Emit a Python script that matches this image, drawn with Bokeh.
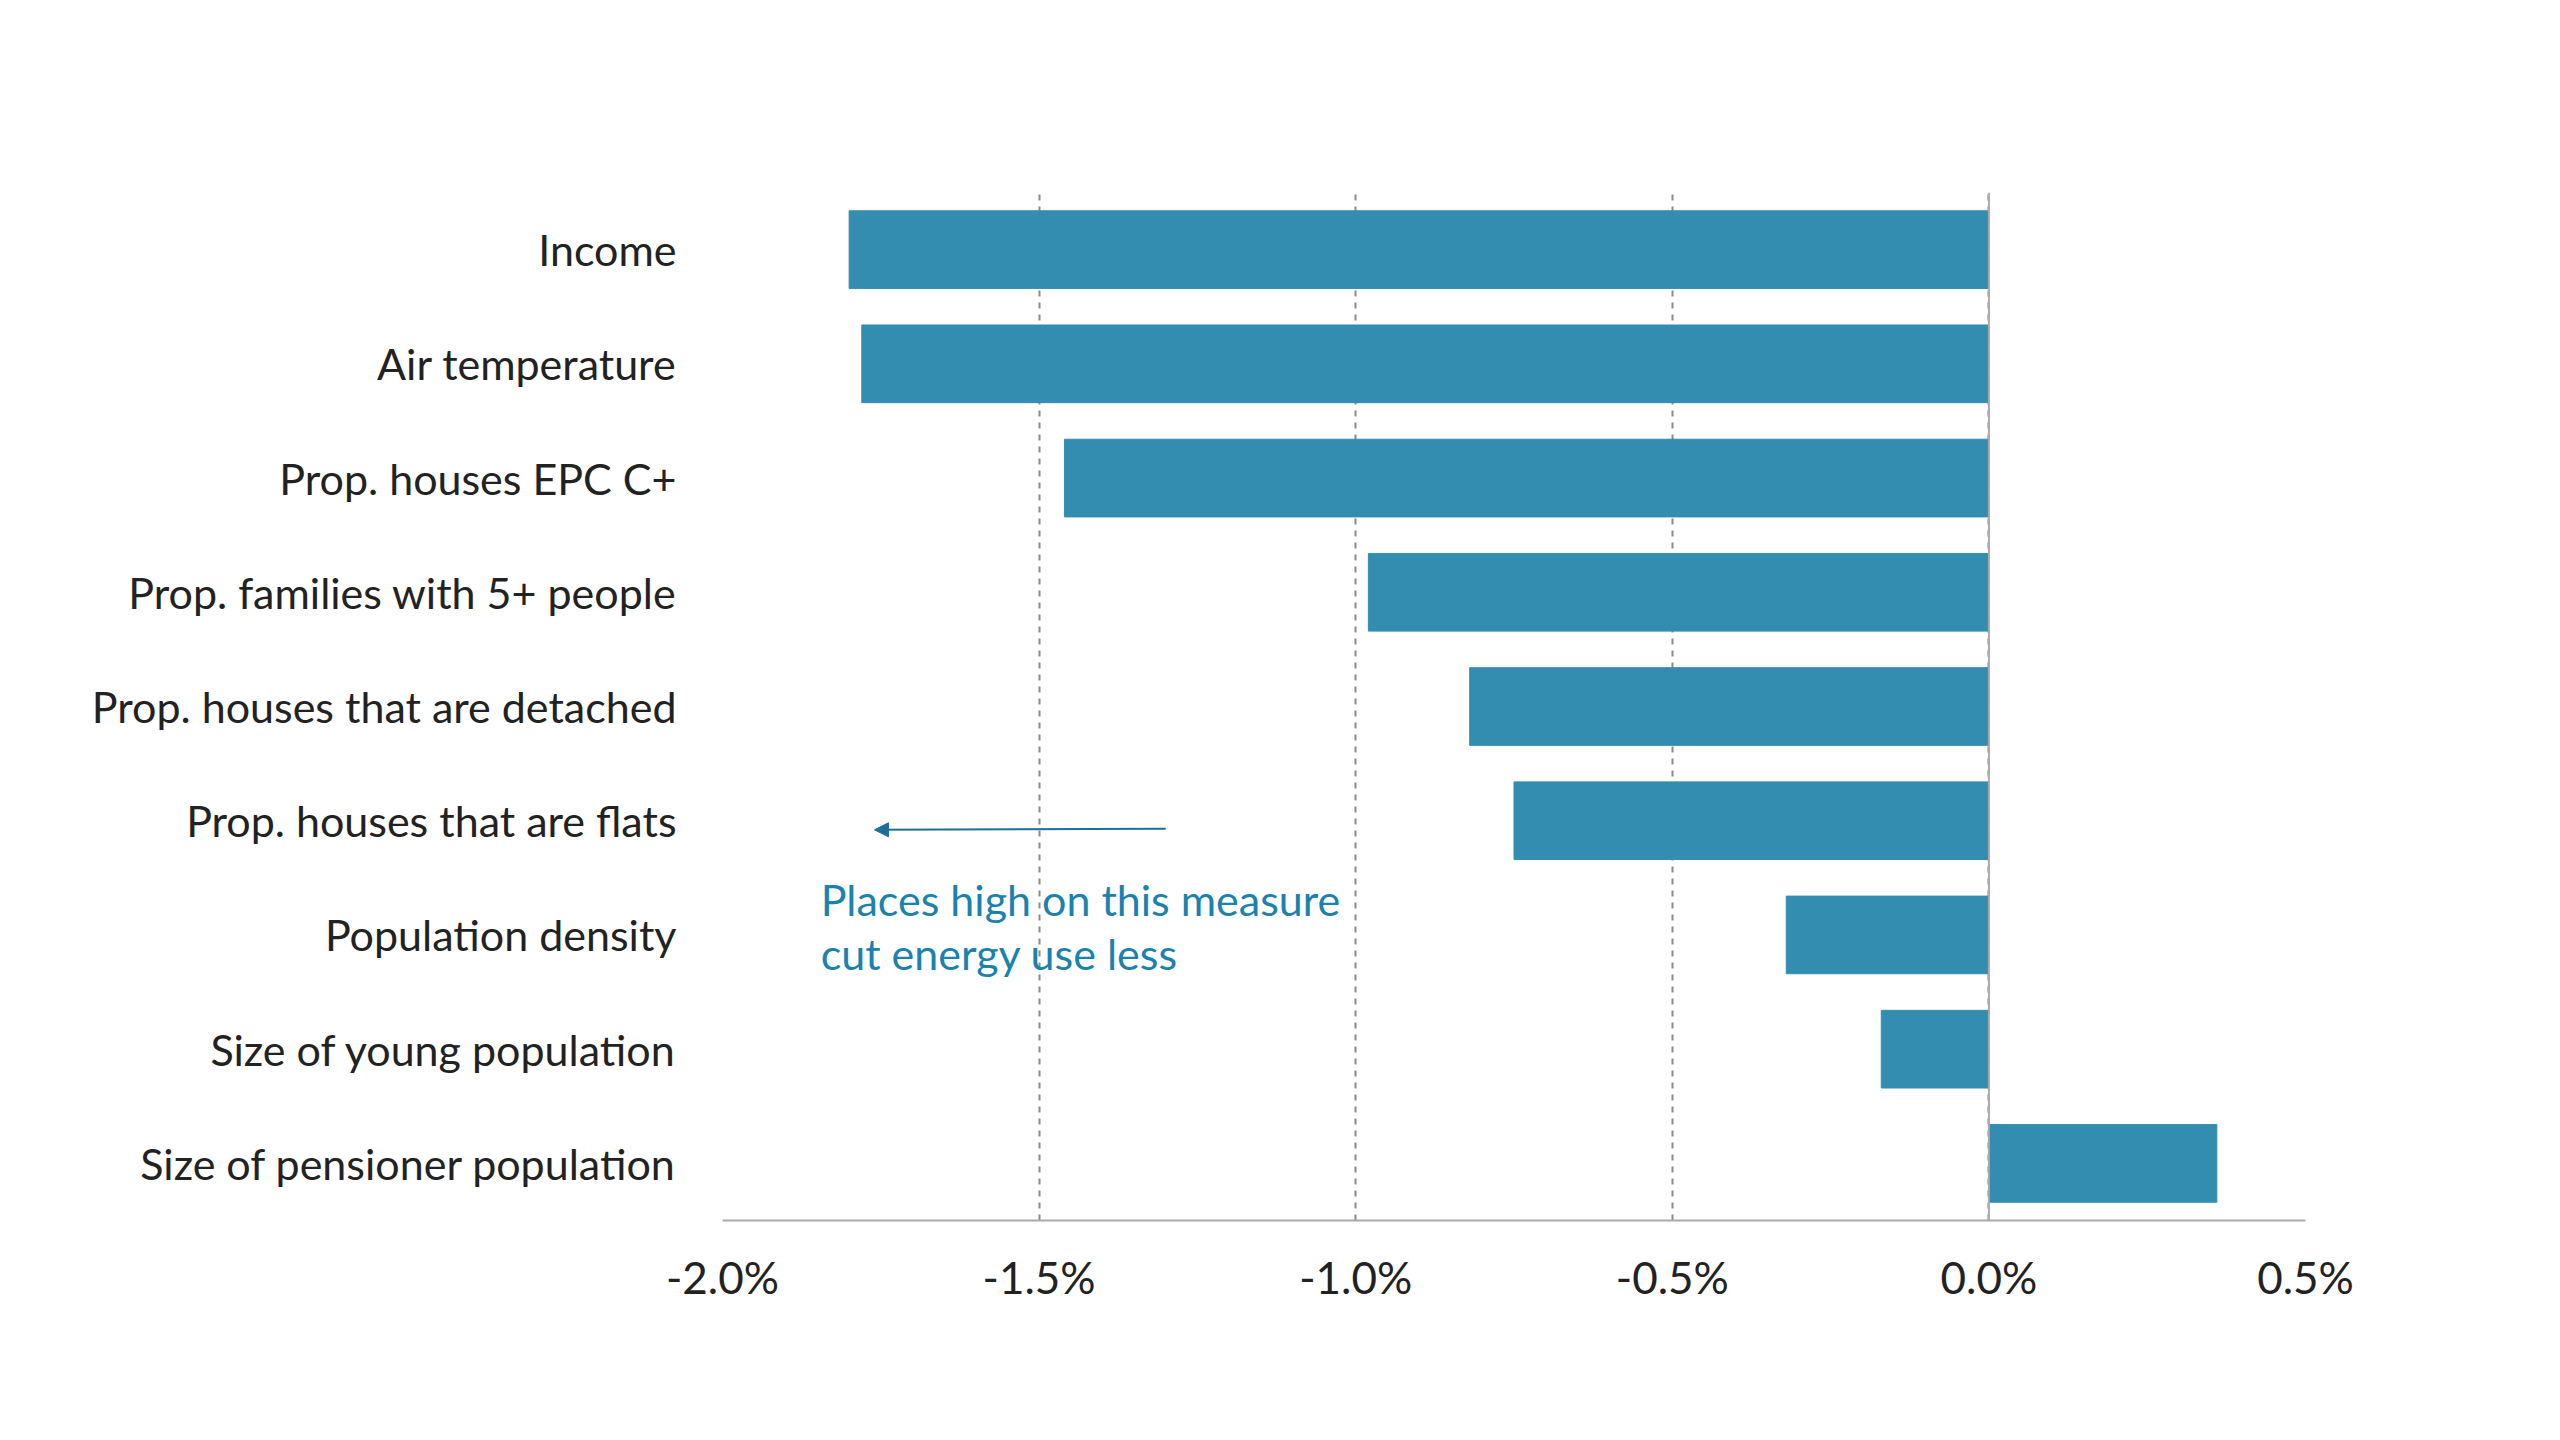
from bokeh.plotting import figure
from bokeh.models import Label, Span, Arrow, NormalHead, PrintfTickFormatter, FixedTicker
from bokeh.embed import file_html
from bokeh.resources import INLINE

categories = ["Income", "Air temperature", "Prop. houses EPC C+", "Prop. families with 5+ people",
              "Prop. houses that are detached", "Prop. houses that are flats", "Population density",
              "Size of young population", "Size of pensioner population"]
values = [-1.80, -1.78, -1.46, -0.98, -0.82, -0.75, -0.32, -0.17, 0.36]
x_ticks = [-2.0, -1.5, -1.0, -0.5, 0.0, 0.5]

W, H = 2544, 1424
L, R, T, B = 722, 239, 192, 204
FW, FH = W - L - R, H - T - B
p = figure(width=W, height=H, y_range=categories[::-1], x_range=(-2.0, 0.5),
           output_backend="svg", toolbar_location=None,
           min_border_left=L, min_border_right=R, min_border_top=T, min_border_bottom=B)
p.outline_line_color = None
p.hbar(y=categories, right=values, left=0, height=0.68, color="#338db1")

p.ygrid.grid_line_color = None
p.xgrid.ticker = FixedTicker(ticks=x_ticks)
p.xgrid.grid_line_color = "#8a8a8a"
p.xgrid.grid_line_dash = "6 6"
p.xgrid.grid_line_width = 2
p.add_layout(Span(location=0, dimension="height", line_color="#aaaaaa", line_width=2))

p.xaxis.ticker = FixedTicker(ticks=x_ticks)
p.xaxis.formatter = PrintfTickFormatter(format="%.1f%%")
p.xaxis.major_tick_line_color = None
p.xaxis.minor_tick_line_color = None
p.xaxis.axis_line_color = "#aaaaaa"
p.xaxis.axis_line_width = 2
p.xaxis.major_label_text_font = "Lato"
p.xaxis.major_label_text_font_size = "44px"
p.xaxis.major_label_text_color = "#222222"
p.xaxis.major_label_standoff = 24

p.yaxis.axis_line_color = None
p.yaxis.major_tick_line_color = None
p.yaxis.minor_tick_line_color = None
p.yaxis.major_label_text_font = "Lato"
p.yaxis.major_label_text_font_size = "43px"
p.yaxis.major_label_text_color = "#222222"
p.yaxis.major_label_standoff = 40

p.add_layout(Arrow(end=NormalHead(size=14, fill_color="#1d6f98", line_color="#1d6f98"),
                   x_start=-1.3, y_start=3.43, x_end=-1.76, y_end=3.42,
                   line_color="#1d6f98", line_width=2))
for txt, yy in [("Places high on this measure", 2.81), ("cut energy use less", 2.34)]:
    p.add_layout(Label(x=-1.845, y=yy, text=txt, text_font="Lato", text_font_size="43px",
                       text_color="#1a82ad", text_baseline="middle"))

def scr(text, x, y, size, color, font="Open Sans", align="left", style="normal"):
    # x, y in page pixels from top-left, converted to data coordinates
    xd = -2.0 + (x - L) / FW * 2.5
    yd = 9 - (y - T) / FH * 9
    p.add_layout(Label(x=xd, y=yd, text=text,
                       text_font=font, text_font_size=size, text_color=color, text_align=align,
                       text_baseline="middle", text_font_style=style))

tc = "#2b6d87"
scr("Change in gas cutback at the 90th percentile compared to the 10th percentile for various", 80, 90, "50px", tc)
scr("demographic factors, with controls: 2021-2022, England and Wales", 80, 148, "50px", tc)
scr("Resolution", 2522, 70, "54px", "#2b6d87", font="Lato", align="right", style="bold")
scr("Foundation", 2522, 116, "46px", "#8a8a8a", font="Lato", align="right")
nc = "#6a6a6a"
notes = ["Notes: Variables controlled against each other:  income, proportion of pensioners, middle aged, and younger populations, population density, annual average air",
         "temperature by LSOA, proportion of large, medium, and small household sizes.",
         "Source: DESNZ, Subnational electricity and gas consumption, 2026; Census, Various demographic characteristics, 2022; MHCLG, Index of multiple deprivation 2019;",
         "DESNZ, Energy efficiency statistics; Met office, HadUK-Grid."]
for i, t in enumerate(notes):
    scr(t, 80, 1338 + i * 28, "25px", nc, font="Lato")
scr("© Resolution Foundation 2026", 2503, 1372, "27px", "#444444", font="Lato", align="right")
scr("resolutionfoundation.org", 2503, 1406, "27px", "#444444", font="Lato", align="right")

open("out.html", "w").write(file_html(p, INLINE))
